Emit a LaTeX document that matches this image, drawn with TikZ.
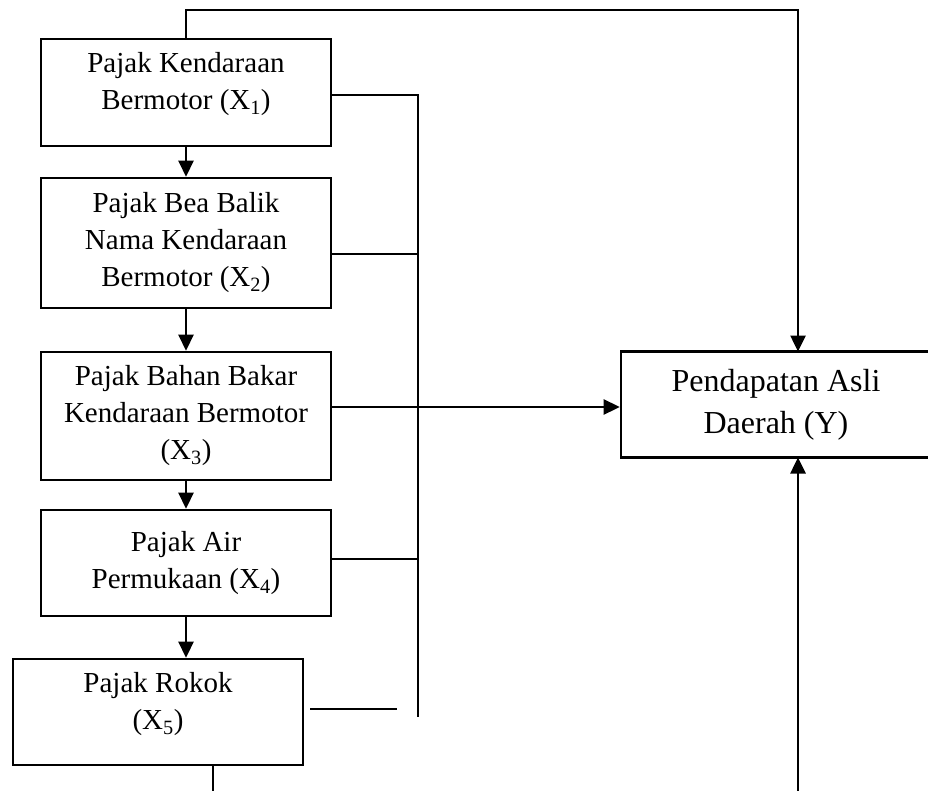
\documentclass[tikz,border=0pt]{standalone}
\usepackage{fontspec}
\setmainfont{Liberation Serif}
\usetikzlibrary{arrows.meta}
\begin{document}
\begin{tikzpicture}[x=1pt,y=-1pt,
  line width=2.6pt,
  box/.style={draw, rectangle, align=center, inner sep=0pt, minimum width=290pt,
    font=\fontsize{29}{37}\selectfont},
  ybox/.style={draw, rectangle, align=center, inner sep=0pt, minimum width=310pt,
    minimum height=106pt, font=\fontsize{32}{42}\selectfont},
  arr/.style={-{Triangle[length=16pt,width=15pt]}}]
\useasboundingbox (0,0) rectangle (928,791);

\node[box, minimum height=107pt] (x1) at (186,92.5) {Pajak Kendaraan\\Bermotor (X\textsubscript{1})\\[-25pt]\strut};
\node[box, minimum height=130pt] (x2) at (186,243) {Pajak Bea Balik\\Nama Kendaraan\\Bermotor (X\textsubscript{2})};
\node[box, minimum height=128pt] (x3) at (186,416) {Pajak Bahan Bakar\\Kendaraan Bermotor\\(X\textsubscript{3})};
\node[box, minimum height=106pt] (x4) at (186,563) {Pajak Air\\Permukaan (X\textsubscript{4})};
\node[box, minimum height=106pt] (x5) at (158,712) {Pajak Rokok\\(X\textsubscript{5})\\[-26pt]\strut};
\node[ybox] (y) at (776,404.5) {Pendapatan Asli\\Daerah (Y)};

\coordinate (top) at (798,10);
\coordinate (yin) at (798,351.5);
\coordinate (b1) at (418,95);
\coordinate (b2) at (418,717);
\coordinate (s5a) at (310,709);
\coordinate (s5b) at (397,709);
\coordinate (bot1) at (213,791);
\coordinate (bot2) at (798,791);
\coordinate (yout) at (798,457.5);

% vertical chain
\draw[arr] (x1) -- (x2);
\draw[arr] (x2) -- (x3);
\draw[arr] (x3) -- (x4);
\draw[arr] (x4.south) -- (x4.south |- x5.north);

% top connector
\draw[arr] (x1.north) |- (top) -- (yin);

% bus
\draw ([yshift=-2.5pt]x1.east) -- (b1) -- (b2);
\draw ([yshift=-11pt]x2.east) -- ([yshift=-11pt]x2.east -| b1);
\draw ([yshift=9pt]x3.east) -- ([yshift=9pt]x3.east -| b1);
\draw[arr] ([yshift=9pt]x3.east -| b1) -- ([yshift=9pt]x3.east -| y.west);
\draw ([yshift=4pt]x4.east) -- ([yshift=4pt]x4.east -| b1);
\draw (s5a) -- (s5b);

% bottom
\draw ([xshift=55pt]x5.south) -- (bot1);
\draw[arr] (bot2) -- (yout);
\end{tikzpicture}
\end{document}
